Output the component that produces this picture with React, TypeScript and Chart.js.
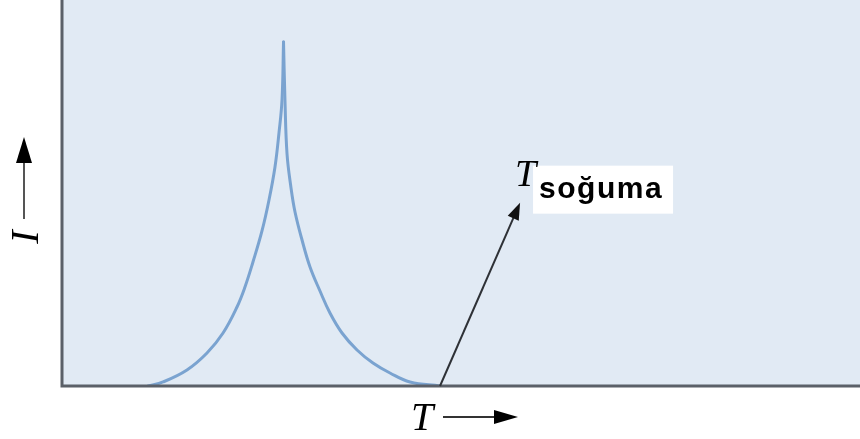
import React, { useEffect, useRef } from "react";
import { Chart, registerables } from "chart.js";

Chart.register(...registerables);

// Intensity peak, read as two branches that meet at the maximum
const risingTemps = [10.78, 12.66, 15.66, 18.17, 20.18, 21.93, 22.93, 23.93, 25.06, 25.94, 26.69, 27.19, 27.57, 27.76];
const risingIntensity = [0, 1.04, 4.15, 8.55, 13.73, 20.47, 25.65, 32.12, 40.16, 48.19, 56.74, 65.54, 74.09, 89.12];
const fallingTemps = [27.76, 27.94, 28.2, 28.7, 29.2, 30.08, 31.08, 32.33, 33.58, 35.09, 36.97, 38.97, 41.1, 43.61, 47.37];
const fallingIntensity = [89.12, 74.09, 60.1, 51.3, 45.08, 37.82, 30.83, 24.61, 18.91, 13.73, 9.33, 5.96, 3.37, 1.04, 0];

// Cooling-temperature marker: base and tip of the arrow
const coolingArrowFrom = { x: 47.37, y: 0 };
const coolingArrowTo = { x: 57.4, y: 47.5 };
const coolingLabel = "soğuma";
const xAxisLabel = "T";
const yAxisLabel = "I";

const PLOT_BG = "#e1eaf4";
const AXIS_COLOR = "#5b6068";
const CURVE_COLOR = "#7aa3d0";

function arrowHead(ctx: CanvasRenderingContext2D, x1: number, y1: number, x2: number, y2: number, len: number, half: number) {
  const a = Math.atan2(y2 - y1, x2 - x1);
  const bx = x2 - len * Math.cos(a);
  const by = y2 - len * Math.sin(a);
  ctx.beginPath();
  ctx.moveTo(x2, y2);
  ctx.lineTo(bx + half * Math.sin(a), by - half * Math.cos(a));
  ctx.lineTo(bx - half * Math.sin(a), by + half * Math.cos(a));
  ctx.closePath();
  ctx.fill();
}

const decorPlugin = {
  id: "decor",
  beforeDraw(chart: any) {
    const { ctx, chartArea } = chart;
    ctx.save();
    ctx.fillStyle = PLOT_BG;
    ctx.fillRect(chartArea.left, chartArea.top, chartArea.right - chartArea.left, chartArea.bottom - chartArea.top);
    ctx.restore();
  },
  afterDraw(chart: any) {
    const { ctx, chartArea, scales } = chart;
    const L = chartArea.left;
    const B = chartArea.bottom;
    ctx.save();

    // axis frame (left and bottom)
    ctx.strokeStyle = AXIS_COLOR;
    ctx.lineWidth = 3;
    ctx.beginPath();
    ctx.moveTo(L, chartArea.top);
    ctx.lineTo(L, B);
    ctx.lineTo(chartArea.right, B);
    ctx.stroke();

    // cooling arrow
    const x1 = scales.x.getPixelForValue(coolingArrowFrom.x);
    const y1 = scales.y.getPixelForValue(coolingArrowFrom.y);
    const x2 = scales.x.getPixelForValue(coolingArrowTo.x);
    const y2 = scales.y.getPixelForValue(coolingArrowTo.y);
    ctx.strokeStyle = "#2e3136";
    ctx.lineWidth = 2;
    ctx.beginPath();
    ctx.moveTo(x1, y1);
    const a = Math.atan2(y2 - y1, x2 - x1);
    ctx.lineTo(x2 - 10 * Math.cos(a), y2 - 10 * Math.sin(a));
    ctx.stroke();
    ctx.fillStyle = "#111";
    arrowHead(ctx, x1, y1, x2, y2, 17, 6);

    // label at the arrow tip
    ctx.fillStyle = "#ffffff";
    ctx.fillRect(x2 + 13, y2 - 37, 140, 48);
    ctx.fillStyle = "#000";
    ctx.textBaseline = "alphabetic";
    ctx.font = "italic 38px 'Liberation Serif', 'DejaVu Serif', serif";
    ctx.textAlign = "left";
    ctx.fillText("T", x2 - 5, y2 - 17);
    ctx.font = "bold 30px 'Liberation Sans', Arial, sans-serif";
    (ctx as any).letterSpacing = "1.5px";
    ctx.fillText(coolingLabel, x2 + 19, y2 - 5);
    (ctx as any).letterSpacing = "0px";

    // x-axis title with arrow
    ctx.font = "italic 40px 'Liberation Serif', 'DejaVu Serif', serif";
    ctx.textAlign = "left";
    ctx.fillText(xAxisLabel, 411, B + 44);
    ctx.strokeStyle = "#333";
    ctx.lineWidth = 2;
    ctx.beginPath();
    ctx.moveTo(443, B + 31);
    ctx.lineTo(500, B + 31);
    ctx.stroke();
    ctx.fillStyle = "#000";
    arrowHead(ctx, 443, B + 31, 518, B + 31, 24, 7);

    // y-axis title with arrow
    ctx.save();
    ctx.translate(38, 237);
    ctx.rotate(-Math.PI / 2);
    ctx.font = "italic 40px 'Liberation Serif', 'DejaVu Serif', serif";
    ctx.textAlign = "center";
    ctx.fillText(yAxisLabel, 0, 0);
    ctx.restore();
    ctx.strokeStyle = "#555";
    ctx.lineWidth = 2;
    ctx.beginPath();
    ctx.moveTo(24, 219);
    ctx.lineTo(24, 160);
    ctx.stroke();
    arrowHead(ctx, 24, 219, 24, 137, 26, 8);

    ctx.restore();
  },
};

const branch = (xs: number[], ys: number[]) => ({
  data: xs.map((t, i) => ({ x: t, y: ys[i] })),
  borderColor: CURVE_COLOR,
  borderWidth: 3,
  borderCapStyle: "round",
  borderJoinStyle: "round",
  pointRadius: 0,
  tension: 0.4,
  fill: false,
});

export default function App() {
  const ref = useRef<HTMLCanvasElement | null>(null);
  useEffect(() => {
    if (!ref.current) return;
    const chart = new Chart(ref.current, {
      type: "line",
      data: {
        datasets: [branch(risingTemps, risingIntensity), branch(fallingTemps, fallingIntensity)],
      },
      options: {
        animation: false,
        responsive: false,
        maintainAspectRatio: false,
        layout: { padding: { left: 62, right: 0, top: 0, bottom: 53 } },
        plugins: { legend: { display: false }, tooltip: { enabled: false } },
        scales: {
          x: { type: "linear", min: 0, max: 100, display: false },
          y: { type: "linear", min: 0, max: 100, display: false },
        },
      },
      plugins: [decorPlugin],
    } as any);
    return () => chart.destroy();
  }, []);
  return (
    <div style={{ position: "fixed", left: 0, top: 0, width: 860, height: 439, background: "#fff" }}>
      <canvas ref={ref} width={860} height={439} style={{ display: "block" }} />
    </div>
  );
}
